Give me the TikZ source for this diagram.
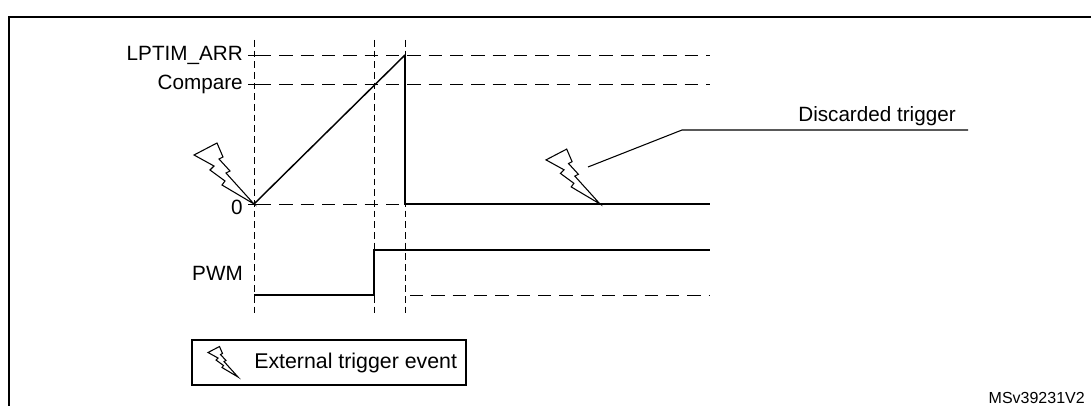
\documentclass[tikz,border=0pt]{standalone}
\usepackage{fontspec}
\setmainfont{Liberation Sans}
\begin{document}
\begin{tikzpicture}[x=0.75pt,y=-0.75pt,font=\fontsize{15.5}{18}\selectfont,
  dsh/.style={dashed,dash pattern=on 10pt off 6pt,line width=0.6pt},
  vd/.style={dashed,dash pattern=on 5pt off 3pt,line width=0.6pt},
  sig/.style={line width=1.4pt},
  bolt/.pic={\draw[line width=0.8pt,fill=white,line join=miter] (0,0) -- (-32,-19) -- (-29,-23) -- (-44,-34) -- (-40,-38) -- (-60,-49) -- (-37,-61) -- (-31,-47) -- (-35,-45) -- (-24,-33) -- (-28,-31) -- cycle;}]
\useasboundingbox (0,0) rectangle (1091,406);
\draw[line width=1.2pt] (9,406) -- (9,17) -- (1091,17);
% verticals
\coordinate (t0) at (254,204);
\coordinate (t1) at (374,295);
\coordinate (t2) at (405,55);
\draw[vd] (254,40) -- (254,313);
\draw[vd] (374,40) -- (374,313);
\draw[vd] (405,40) -- (405,313);
% levels
\draw[dsh] (258,55) -- (710,55);
\draw[dsh] (258,84) -- (710,84);
\draw[dsh] (258,204) -- (405,204);
\draw[dsh] (410,295) -- (710,295);
\foreach \y in {55,84,204} \draw[line width=0.6pt] (248,\y) -- (258,\y);
\node[anchor=east,inner sep=0] (larr) at (243,55) {LPTIM\_ARR};
\node[anchor=east,inner sep=0] (lcmp) at (243,84) {Compare};
\node[anchor=east,inner sep=0] (lz) at (243,207) {0};
\node[anchor=east,inner sep=0] (lpwm) at (243,273) {PWM};
% counter
\draw[line width=1.1pt] (t0) -- (t2);
\draw[sig] (t2) -- (405,204) -- (710,204);
% pwm
\draw[sig] (254,295) -- (374,295) -- (374,250) -- (710,250);
% bolts
\pic at (t0) {bolt};
\coordinate (t3) at (600,204);
\pic[scale=0.9] at (t3) {bolt};
% discarded
\node[inner sep=0] (disc) at (877,116) {Discarded trigger};
\coordinate (dc) at (682,130);
\draw[line width=0.8pt] (588,167) -- (dc) -- (968,130);
% legend
\draw[line width=0.8pt] (192,340) rectangle (466,385);
\pic[scale=0.5] at (238,377) {bolt};
\node[anchor=west,inner sep=0,font=\fontsize{16}{18}\selectfont] (legt) at (254,363) {External trigger event};
\node[anchor=east,inner sep=0,font=\fontsize{12}{14}\selectfont] (ms) at (1085,398) {MSv39231V2};
\end{tikzpicture}
\end{document}
